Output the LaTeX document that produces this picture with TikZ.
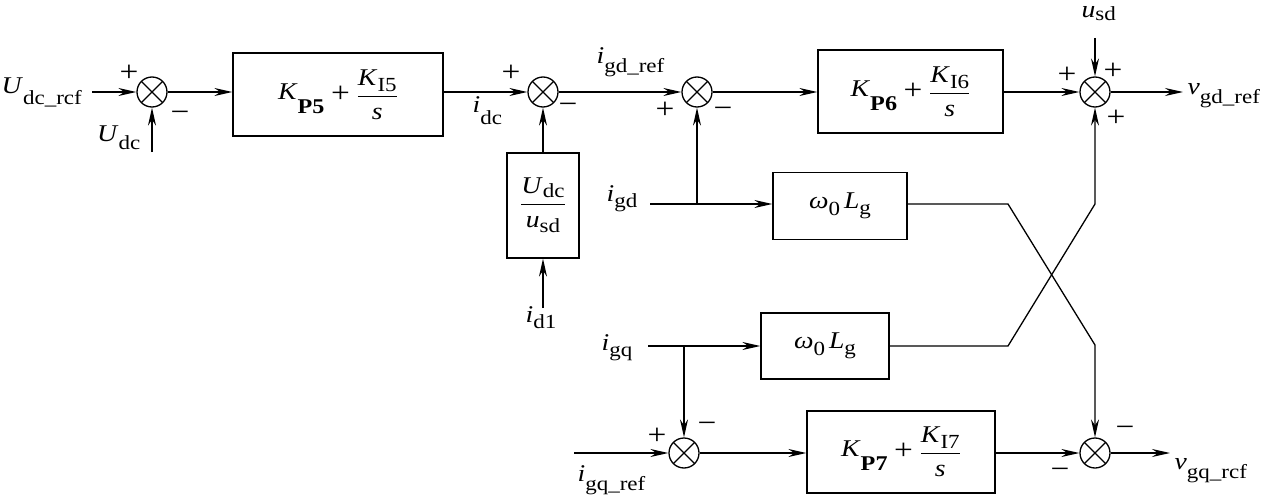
\documentclass[tikz,border=0pt]{standalone}
\usepackage{fontspec}
\setmainfont{Liberation Serif}[FakeStretch=1.15]
\usetikzlibrary{arrows.meta}
\newcommand{\sv}[3][-9pt]{\textit{#2}\raisebox{#1}{\fontsize{20}{20}\selectfont #3}}
\newcommand{\kpi}[2]{\raisebox{3pt}{\textit{K}}\raisebox{-11pt}{\fontsize{21}{21}\selectfont\textbf{#1}}\;{\fontsize{29}{29}\selectfont +}\;$\displaystyle\frac{\mbox{\textit{K}\raisebox{-6pt}{\fontsize{20}{20}\selectfont #2}}}{\mbox{\textit{s}}}$}
\begin{document}
\begin{tikzpicture}[x=1pt,y=-1pt,
  font=\fontsize{24}{28}\selectfont,
  line width=1.3pt,
  >={Stealth[length=18pt,width=8pt,inset=6pt]},
  blk/.style={draw, inner sep=0pt, align=center, font=\fontsize{24}{28}\selectfont},
  sumnode/.style={circle, draw, minimum size=30pt, inner sep=0pt,
    path picture={\draw (path picture bounding box.north west) -- (path picture bounding box.south east)
                        (path picture bounding box.north east) -- (path picture bounding box.south west);}},
  sgn/.style={inner sep=0pt, font=\fontsize{29}{29}\selectfont},
  lbl/.style={inner sep=0pt}]
\useasboundingbox (0,0) rectangle (1270,495);

% blocks
\node[blk, minimum width=210pt, minimum height=83pt] (b1) at (338,94.5) {\kpi{P5}{I5}};
\node[blk, minimum width=72pt, minimum height=105pt] (b2) at (543,205.5) {$\displaystyle\frac{\mbox{\sv[-4pt]{U}{dc}}}{\mbox{\sv[-5pt]{u}{sd}}}$};
\node[blk, minimum width=185pt, minimum height=83pt] (b3) at (910.5,91.5) {\kpi{P6}{I6}};
\node[blk, minimum width=134pt, minimum height=67pt] (b4) at (840,206) {\sv[-7pt]{\char"03C9}{0}\,\sv[-6pt]{L}{g}};
\node[blk, minimum width=128pt, minimum height=66pt] (b5) at (825,346) {\sv[-7pt]{\char"03C9}{0}\,\sv[-6pt]{L}{g}};
\node[blk, minimum width=188pt, minimum height=82pt] (b6) at (901,452) {\kpi{P7}{I7}};

% summing junctions
\node[sumnode] (s1) at (152,92) {};
\node[sumnode] (s2) at (543,92) {};
\node[sumnode] (s3) at (697,92) {};
\node[sumnode] (s4) at (1095,92) {};
\node[sumnode] (s5) at (684,453) {};
\node[sumnode] (s6) at (1095,453) {};

% free ends
\coordinate (inUref) at (92,92);
\coordinate (inUdc) at (152,152);
\coordinate (inid1) at (543,308);
\coordinate (inusd) at (1095,38);
\coordinate (outvd) at (1183,92);
\coordinate (inigd) at (650,204);
\coordinate (brd) at (697,204);
\coordinate (inigq) at (648,346);
\coordinate (brq) at (684,346);
\coordinate (inigqref) at (574,453);
\coordinate (outvq) at (1170,453);
\coordinate (xa) at (1008,204);
\coordinate (xb) at (1095,345);
\coordinate (xc) at (1008,346);
\coordinate (xd) at (1095,204);

% connectors
\draw[->] (inUref) -- (s1.west);
\draw[->] (inUdc) -- (s1.south);
\draw[->] (s1.east) -- (s1.east -| b1.west);
\draw[->] (b1.east |- s2.west) -- (s2.west);
\draw[->] (b2.north) -- (s2.south);
\draw[->] (inid1) -- (b2.south);
\draw[->] (s2.east) -- (s3.west);
\draw[->] (s3.east) -- (b3.west |- s3.east);
\draw[->] (b3.east |- s4.west) -- (s4.west);
\draw[->] (inusd) -- (s4.north);
\draw[->] (s4.east) -- (outvd);
\draw[->] (inigd) -- (inigd -| b4.west);
\draw[->] (brd) -- (s3.south);
\draw[->] (b4.east |- xa) -- (xa) -- (xb) -- (s6.north);
\draw[->] (b5.east) -- (xc) -- (xd) -- (s4.south);
\draw[->] (inigq) -- (b5.west);
\draw[->] (brq) -- (s5.north);
\draw[->] (inigqref) -- (s5.west);
\draw[->] (s5.east) -- (b6.west |- s5.east);
\draw[->] (b6.east |- s6.west) -- (s6.west);
\draw[->] (s6.east) -- (outvq);

% labels
\node[lbl, anchor=base west] (lUref) at (1,94) {\sv[-11pt]{U}{dc\_rcf}};
\node[lbl, anchor=base east] (lUdc) at (141,141) {\sv{U}{dc}};
\node[lbl, anchor=base west] (lidc) at (472,113) {\sv[-12pt]{i}{dc}};
\node[lbl, anchor=base west] (ligdref) at (596,64) {\sv{i}{gd\_ref}};
\node[lbl, anchor=base west] (lusd) at (1081,18) {\sv[-3pt]{u}{sd}};
\node[lbl, anchor=base west] (lvgd) at (1187,95) {\sv{v}{gd\_ref}};
\node[lbl, anchor=base west] (ligd) at (606,201) {\sv[-6pt]{i}{gd}};
\node[lbl, anchor=base] (lid1) at (541,322) {\sv[-6pt]{i}{d1}};
\node[lbl, anchor=base west] (ligq) at (601,350) {\sv[-6pt]{i}{gq}};
\node[lbl, anchor=base west] (ligqref) at (577,481) {\sv{i}{gq\_ref}};
\node[lbl, anchor=base west] (lvgq) at (1174,469) {\sv{v}{gq\_rcf}};

% signs
\node[sgn] (p1) at (129,73) {+};
\node[sgn] (m1) at (180,116) {−};
\node[sgn] (p2) at (511,73) {+};
\node[sgn] (m2) at (568,108) {−};
\node[sgn] (p3) at (665,110) {+};
\node[sgn] (m3) at (723,112) {−};
\node[sgn] (p4a) at (1067,75) {+};
\node[sgn] (p4b) at (1113,71) {+};
\node[sgn] (p4c) at (1116,118) {+};
\node[sgn] (p5) at (657,436) {+};
\node[sgn] (m5) at (707,427) {−};
\node[sgn] (m6a) at (1125,431) {−};
\node[sgn] (m6b) at (1060,473) {−};
\end{tikzpicture}
\end{document}
